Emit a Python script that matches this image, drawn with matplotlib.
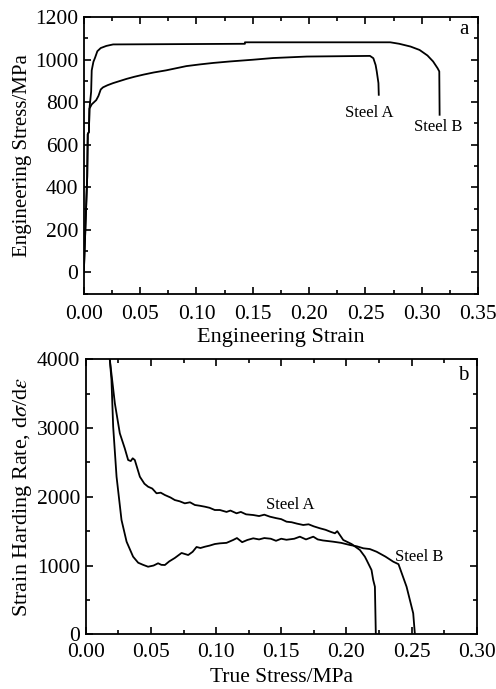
import numpy as np
import matplotlib.pyplot as plt
from matplotlib.ticker import MultipleLocator

plt.rcParams['font.family'] = ['Liberation Serif', 'DejaVu Serif']
plt.rcParams['mathtext.fontset'] = 'stix'

# ── Panel a: engineering stress-strain ────────────────────────────────────────
strain_a = [0, 0.001, 0.002, 0.003, 0.0035, 0.0045, 0.005, 0.007, 0.009, 0.011,
            0.013, 0.015, 0.017, 0.021, 0.026, 0.032, 0.038, 0.045, 0.053, 0.062,
            0.073, 0.082, 0.091, 0.103, 0.115, 0.13, 0.15, 0.168, 0.198, 0.254,
            0.257, 0.259, 0.260, 0.2615, 0.2618]
stress_a = [0, 150, 300, 450, 650, 660, 770, 790, 800, 810,
            830, 860, 870, 880, 890, 900, 910, 920, 930, 940,
            950, 960, 970, 978, 985, 992, 1000, 1008, 1015, 1018,
            1007, 975, 945, 890, 835]

strain_b = [0, 0.001, 0.002, 0.003, 0.0035, 0.0045, 0.005, 0.0065, 0.007, 0.0085,
            0.010, 0.012, 0.015, 0.020, 0.026, 0.143, 0.143, 0.272, 0.28, 0.29,
            0.298, 0.305, 0.310, 0.314, 0.3155, 0.3158]
stress_b = [0, 150, 300, 450, 650, 660, 770, 850, 950, 990,
            1010, 1040, 1055, 1065, 1072, 1075, 1082, 1082, 1075, 1062,
            1046, 1020, 992, 960, 945, 741]

# ── Panel b: strain hardening rate ────────────────────────────────────────────
ts_a = [0.0184, 0.0223, 0.0261, 0.0299, 0.0325, 0.0345, 0.0360, 0.0376, 0.0415, 0.0450,
        0.0478, 0.0510, 0.0543, 0.0575, 0.0607, 0.0650, 0.0683, 0.0720, 0.0760, 0.0800,
        0.0837, 0.0875, 0.0914, 0.0950, 0.0990, 0.1029, 0.1080, 0.1110, 0.1157, 0.1190,
        0.1230, 0.1285, 0.1330, 0.1370, 0.1413, 0.1460, 0.1500, 0.1541, 0.1580, 0.1620,
        0.1669, 0.1710, 0.1750, 0.1797, 0.1840, 0.1880, 0.1912, 0.1930, 0.1976, 0.2040,
        0.2104, 0.2142, 0.2155, 0.2193, 0.2206, 0.2219, 0.2226]
rate_a = [4000, 3359, 2924, 2705, 2535, 2520, 2560, 2535, 2292, 2190,
          2147, 2120, 2051, 2060, 2026, 1990, 1953, 1935, 1905, 1920,
          1881, 1870, 1856, 1840, 1808, 1808, 1780, 1800, 1760, 1780,
          1745, 1735, 1720, 1740, 1711, 1690, 1675, 1638, 1630, 1610,
          1590, 1600, 1570, 1542, 1520, 1490, 1469, 1500, 1372, 1313,
          1226, 1129, 1081, 935, 790, 692, 0]

ts_b = [0.0184, 0.0197, 0.0210, 0.0236, 0.0274, 0.0313, 0.0363, 0.0402, 0.0440, 0.0478,
        0.0520, 0.0555, 0.0580, 0.0607, 0.0640, 0.0683, 0.0735, 0.0786, 0.0820, 0.0850,
        0.0880, 0.0914, 0.0950, 0.0990, 0.1029, 0.1080, 0.1131, 0.1160, 0.1200, 0.1240,
        0.1285, 0.1330, 0.1370, 0.1420, 0.1460, 0.1500, 0.1540, 0.1600, 0.1643, 0.1690,
        0.1746, 0.1780, 0.1820, 0.1899, 0.1960, 0.2027, 0.2080, 0.2130, 0.2180, 0.2232,
        0.2300, 0.2360, 0.2400, 0.2462, 0.2513, 0.2526]
rate_b = [4000, 3700, 3020, 2292, 1663, 1347, 1129, 1041, 1010, 983,
          1000, 1033, 1010, 1008, 1060, 1110, 1183, 1153, 1200, 1270,
          1255, 1274, 1290, 1313, 1323, 1330, 1372, 1400, 1340, 1372,
          1396, 1380, 1400, 1390, 1360, 1390, 1375, 1390, 1420, 1380,
          1420, 1380, 1365, 1347, 1330, 1299, 1280, 1251, 1240, 1201,
          1130, 1056, 1020, 692, 305, 0]

fig = plt.figure(figsize=(4.96, 6.89), dpi=100)
ax1 = fig.add_axes([0.169, 0.574, 0.795, 0.401])
ax2 = fig.add_axes([0.173, 0.0794, 0.788, 0.3991])

lw = 1.3
ax1.plot(strain_a, stress_a, color='black', lw=lw)
ax1.plot(strain_b, stress_b, color='black', lw=lw)
ax1.set_xlim(0, 0.35)
ax1.set_ylim(-100, 1200)
ax1.xaxis.set_major_locator(MultipleLocator(0.05))
ax1.xaxis.set_minor_locator(MultipleLocator(0.025))
ax1.yaxis.set_major_locator(MultipleLocator(200))
ax1.yaxis.set_minor_locator(MultipleLocator(100))
ax1.xaxis.set_major_formatter(lambda v, p: f'{v:.2f}')
ax1.set_xlabel('Engineering Strain', fontsize=16, labelpad=3)
ax1.set_ylabel('Engineering Stress/MPa', fontsize=15, labelpad=2)
ax1.text(0.253, 749, 'Steel A', fontsize=12, ha='center', va='center')
ax1.text(0.3145, 682, 'Steel B', fontsize=12, ha='center', va='center')
ax1.text(0.337, 1140, 'a', fontsize=15, ha='center', va='center')

ax2.plot(ts_a, rate_a, color='black', lw=lw)
ax2.plot(ts_b, rate_b, color='black', lw=lw)
ax2.set_xlim(0, 0.30)
ax2.set_ylim(0, 4000)
ax2.xaxis.set_major_locator(MultipleLocator(0.05))
ax2.xaxis.set_minor_locator(MultipleLocator(0.025))
ax2.yaxis.set_major_locator(MultipleLocator(1000))
ax2.yaxis.set_minor_locator(MultipleLocator(500))
ax2.xaxis.set_major_formatter(lambda v, p: f'{v:.2f}')
ax2.set_xlabel('True Stress/MPa', fontsize=15.5, labelpad=4)
ax2.set_ylabel(r'Strain Harding Rate, d$\sigma$/d$\varepsilon$', fontsize=16, labelpad=2)
ax2.text(0.157, 1881, 'Steel A', fontsize=12, ha='center', va='center')
ax2.text(0.256, 1130, 'Steel B', fontsize=12, ha='center', va='center')
ax2.text(0.29, 3770, 'b', fontsize=15, ha='center', va='center')

for ax in (ax1, ax2):
    ax.tick_params(which='both', direction='in', top=True, right=True,
                   labelsize=15.5, width=1.2)
    ax.tick_params(which='major', length=5)
    ax.tick_params(which='minor', length=3)
    for s in ax.spines.values():
        s.set_linewidth(1.3)
ax1.tick_params(axis='x', which='major', pad=8)
ax1.tick_params(axis='y', which='major', pad=4)
ax2.tick_params(axis='x', which='major', pad=6.5)
ax2.tick_params(axis='y', which='major', pad=4)

fig.savefig('out.png', dpi=100)
